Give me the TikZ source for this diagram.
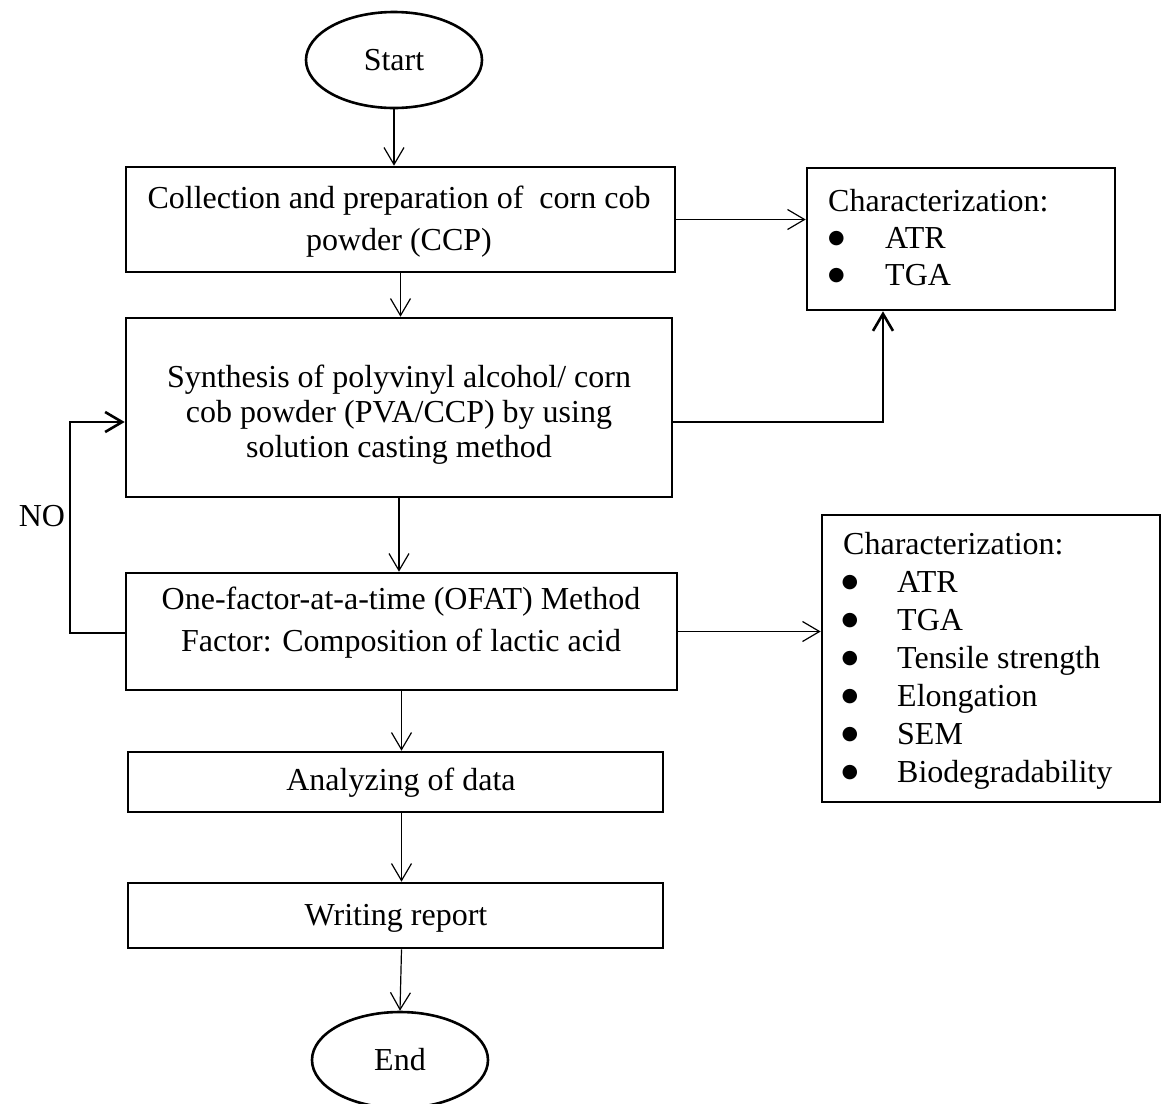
\documentclass[tikz,border=0pt]{standalone}
\usepackage{fontspec}
\setmainfont{Liberation Serif}
\newfontfamily\symfont{DejaVu Sans}
\usetikzlibrary{arrows.meta,shapes.geometric}
\newcommand{\fsz}[1]{\fontsize{32}{#1}\selectfont}
\newcommand{\bigbul}{\raisebox{5.5pt}{\symfont\fontsize{19}{19}\selectfont ●}}
\newcommand{\bulA}{\makebox[57pt][l]{\hspace{0pt}\bigbul}}
\newcommand{\bulB}{\makebox[54pt][l]{\hspace{-1.5pt}\bigbul}}
\tikzset{
  box/.style={draw, line width=2.6pt, minimum width=#1, inner sep=0pt},
  oval/.style={draw, ellipse, line width=2.6pt, minimum width=176pt, minimum height=96pt, inner sep=0pt, font=\fsz{36}},
  txt/.style={inner sep=0pt, align=center},
  thinarrow/.style={line width=1.2pt, -{Straight Barb[length=17pt,width=20pt,line width=1.2pt]}},
  thickarrow/.style={line width=2.6pt, -{Straight Barb[length=17pt,width=20pt,line width=2.6pt]}},
}
\begin{document}
\begin{tikzpicture}[x=1pt,y=-1pt]
\useasboundingbox (0,0) rectangle (1163,1104);
\fill[white] (0,0) rectangle (1163,1104);
% ovals
\node[oval] (start) at (394,60) {Start};
\node[oval] (end) at (400,1060) {End};
% boxes
\node[box=549pt, minimum height=105pt] (b1) at (400.5,219.5) {};
\node[box=546pt, minimum height=179pt] (b2) at (399,407.5) {};
\node[box=551pt, minimum height=117pt] (b3) at (401.5,631.5) {};
\node[box=535pt, minimum height=60pt] (b4) at (395.5,782) {};
\node[box=535pt, minimum height=65pt] (b5) at (395.5,915.5) {};
\node[box=308pt, minimum height=142pt] (c1) at (961,239) {};
\node[box=338pt, minimum height=287pt] (c2) at (991,658.5) {};
% texts
\node[txt, font=\fsz{42}] (t1) at (399,222) {Collection and preparation of\ \ corn cob\\powder (CCP)};
\node[txt, font=\fsz{35}] (t2) at (399,415) {Synthesis of polyvinyl alcohol/ corn\\cob powder (PVA/CCP) by using\\solution casting method};
\node[txt, font=\fsz{42}] (t3) at (401,623) {One-factor-at-a-time (OFAT) Method\\Factor: Composition of lactic acid};
\node[txt, font=\fsz{36}] (t4) at (401,783) {Analyzing of data};
\node[txt, font=\fsz{36}] (t5) at (396,918) {Writing report};
\node[txt, anchor=west, align=left, font=\fsz{37}] (ct1) at (828,238) {Characterization:\\\bulA ATR\\\bulA TGA};
\node[txt, anchor=west, align=left, font=\fsz{38}] (ct2) at (843,661) {Characterization:\\\bulB ATR\\\bulB TGA\\\bulB Tensile strength\\\bulB Elongation\\\bulB SEM\\\bulB Biodegradability};
\node[txt, font=\fsz{36}] (no) at (42,516) {NO};
% connectors
\draw[thinarrow] (start.south) -- (start.south |- b1.north);
\draw[thinarrow] (b1.south) -- (b1.south |- b2.north);
\draw[thinarrow] (b2.south) -- (b2.south |- b3.north);
\draw[thinarrow] (b3.south) -- (b3.south |- b4.north);
\draw[thinarrow] (b4.south -| b3.south) -- (b3.south |- b5.north);
\draw[thinarrow] (b5.south -| b3.south) -- (end.north);
\draw[thinarrow] (b1.east) -- (b1.east -| c1.west);
\draw[thinarrow] (b3.east) -- (b3.east -| c2.west);
\coordinate (r2) at (883,422);
\draw[thickarrow] (b2.east |- r2) -- (r2) -- (r2 |- c1.south);
\coordinate (l3) at (70,633);
\coordinate (l2) at (70,422);
\draw[thickarrow] (b3.west |- l3) -- (l3) -- (l2) -- (l2 -| b2.west);
\end{tikzpicture}
\end{document}
